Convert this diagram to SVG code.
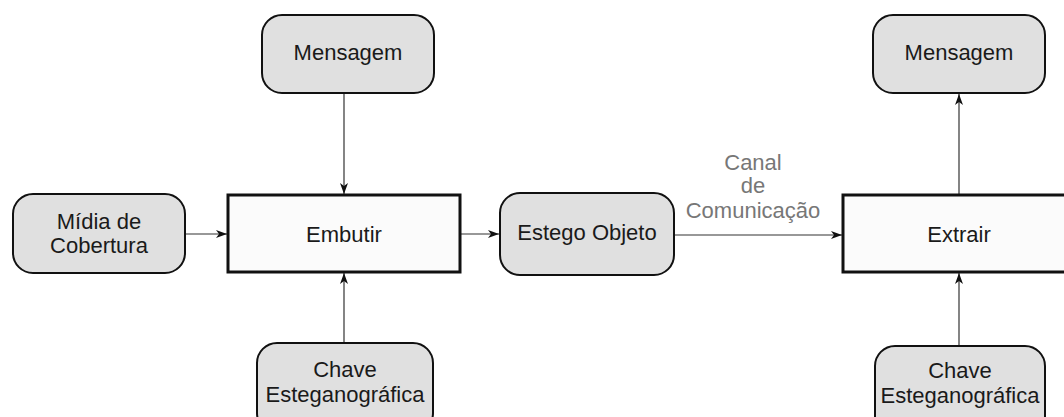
<svg xmlns="http://www.w3.org/2000/svg" width="1064" height="417" viewBox="0 0 1064 417">
<style>
.node{fill:#e0e0e0;stroke:#111;stroke-width:2}
.proc{fill:#fbfbfb;stroke:#111;stroke-width:3}
.t{font-family:"Liberation Sans",Arial,sans-serif;font-size:22px;fill:#1a1a1a;text-anchor:middle}
.lbl{font-family:"Liberation Sans",Arial,sans-serif;font-size:22px;fill:#777;text-anchor:middle}
.c{stroke:#333;stroke-width:1.2;fill:none;marker-end:url(#ah)}
</style>
<defs>
<marker id="ah" viewBox="0 0 11 8" refX="11" refY="4" markerWidth="11" markerHeight="8" markerUnits="userSpaceOnUse" orient="auto">
<path d="M0,0 L11,4 L0,8 L3,4 Z" fill="#111"/>
</marker>
</defs>
<rect width="1064" height="417" fill="#fff"/>
<g id="connectors">
<line class="c" x1="344" y1="93" x2="344" y2="194"/>
<line class="c" x1="344" y1="343" x2="344" y2="273"/>
<line class="c" x1="185" y1="234" x2="227" y2="234"/>
<line class="c" x1="460" y1="234" x2="499" y2="234"/>
<line class="c" x1="674" y1="235" x2="842" y2="235"/>
<line class="c" x1="959" y1="195" x2="959" y2="94"/>
<line class="c" x1="959" y1="346" x2="959" y2="273"/>
<g id="canal-label">
<text class="lbl" x="753" y="170">Canal</text>
<text class="lbl" x="753" y="193">de</text>
<text class="lbl" x="753" y="218">Comunicação</text>
</g>
</g>
<g id="mensagem1">
<rect class="node" x="262" y="15" width="172" height="78" rx="20"/>
<text class="t" x="348" y="60">Mensagem</text>
</g>
<g id="midia">
<rect class="node" x="13" y="194" width="172" height="79" rx="20"/>
<text class="t" x="99" y="229">Mídia de</text>
<text class="t" x="99" y="253">Cobertura</text>
</g>
<g id="embutir">
<rect class="proc" x="228" y="195" width="232" height="77"/>
<text class="t" x="344" y="242">Embutir</text>
</g>
<g id="chave1">
<rect class="node" x="257" y="343" width="176" height="90" rx="20"/>
<text class="t" x="345" y="377">Chave</text>
<text class="t" x="345" y="402">Esteganográfica</text>
</g>
<g id="estego">
<rect class="node" x="500" y="193" width="174" height="82" rx="20"/>
<text class="t" x="587" y="240">Estego Objeto</text>
</g>
<g id="extrair">
<rect class="proc" x="843" y="195" width="232" height="77"/>
<text class="t" x="959" y="242">Extrair</text>
</g>
<g id="mensagem2">
<rect class="node" x="873" y="15" width="172" height="78" rx="20"/>
<text class="t" x="959" y="60">Mensagem</text>
</g>
<g id="chave2">
<rect class="node" x="875" y="346" width="170" height="90" rx="20"/>
<text class="t" x="960" y="378">Chave</text>
<text class="t" x="960" y="403">Esteganográfica</text>
</g>
</svg>
